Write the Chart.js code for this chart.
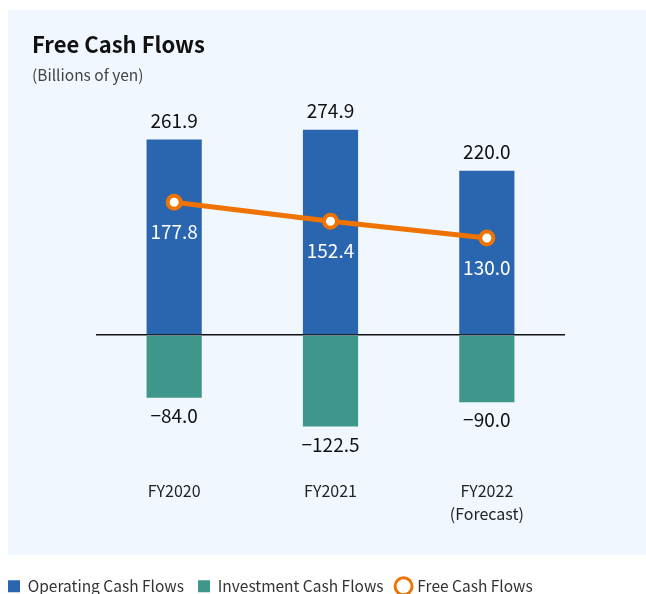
<!DOCTYPE html>
<html>
<head>
<meta charset="utf-8">
<script src="https://cdn.jsdelivr.net/npm/chart.js@4"></script>
<style>
  html, body { margin: 0; padding: 0; background: #fff; }
  #wrap { position: relative; width: 646px; height: 594px; }
</style>
</head>
<body>
<div id="wrap"><canvas id="fcf" width="646" height="594"></canvas></div>
<script>
(function () {
  'use strict';

  var categories = ['FY2020', 'FY2021', ['FY2022', '(Forecast)']];
  var operatingCF = [261.9, 274.9, 220.0];
  var investmentCF = [-84.0, -122.5, -90.0];
  var freeCF = [177.8, 152.4, 130.0];

  var FONT = '"Noto Sans CJK JP", "Noto Sans", sans-serif';

  // light panel + title text
  var panelPlugin = {
    id: 'panel',
    beforeDraw: function (chart) {
      var c = chart.ctx;
      c.save();
      c.fillStyle = '#f0f7fe';
      c.fillRect(8, 10, 638, 545);
      c.fillStyle = '#111';
      c.textBaseline = 'alphabetic';
      c.font = 'bold 22px ' + FONT;
      c.fillText('Free Cash Flows', 32, 53);
      c.fillStyle = '#444';
      c.font = '15.5px ' + FONT;
      c.fillText('(Billions of yen)', 32, 81);
      c.restore();
    }
  };

  // value labels
  var valuePlugin = {
    id: 'values',
    afterDatasetsDraw: function (chart) {
      var c = chart.ctx;
      c.save();
      c.textAlign = 'center';
      c.textBaseline = 'middle';
      c.font = '19px ' + FONT;
      chart.data.datasets.forEach(function (ds, i) {
        var meta = chart.getDatasetMeta(i);
        meta.data.forEach(function (el, j) {
          var v = ds.data[j];
          var txt = v < 0 ? '\u2212' + Math.abs(v).toFixed(1) : v.toFixed(1);
          if (ds.type === 'line') {
            c.fillStyle = '#fff';
            c.fillText(txt, el.x, el.y + 30);
          } else if (v >= 0) {
            c.fillStyle = '#111';
            c.fillText(txt, el.x, el.y - 19);
          } else {
            c.fillStyle = '#111';
            c.fillText(txt, el.x, el.y + 18);
          }
        });
      });
      c.restore();
    }
  };

  var legendOrder = ['Operating Cash Flows', 'Investment Cash Flows', 'Free Cash Flows'];

  var ctx = document.getElementById('fcf').getContext('2d');
  new Chart(ctx, {
    data: {
      labels: categories,
      datasets: [{
        type: 'line',
        label: 'Free Cash Flows',
        data: freeCF,
        borderColor: '#ef7300',
        backgroundColor: '#fff',
        borderWidth: 5,
        pointRadius: 6.5,
        pointBorderWidth: 4,
        pointBackgroundColor: '#fff',
        pointBorderColor: '#ef7300',
        pointStyle: 'circle',
        order: 0
      }, {
        type: 'bar',
        label: 'Operating Cash Flows',
        data: operatingCF,
        backgroundColor: '#2a66b0',
        pointStyle: 'rect',
        barPercentage: 0.353,
        categoryPercentage: 1,
        order: 1
      }, {
        type: 'bar',
        label: 'Investment Cash Flows',
        data: investmentCF,
        backgroundColor: '#3f968a',
        pointStyle: 'rect',
        barPercentage: 0.353,
        categoryPercentage: 1,
        order: 1
      }]
    },
    options: {
      responsive: false,
      animation: false,
      layout: { padding: { left: -6, right: 81, top: 111, bottom: -10 } },
      plugins: {
        tooltip: { enabled: false },
        title: { display: false },
        legend: {
          position: 'bottom',
          align: 'start',
          labels: {
            usePointStyle: true,
            boxWidth: 12,
            boxHeight: 12,
            padding: 14,
            color: '#333',
            font: { family: FONT, size: 15.5 },
            generateLabels: function (chart) {
              var items = Chart.defaults.plugins.legend.labels.generateLabels(chart);
              items.forEach(function (it) {
                if (it.text === 'Free Cash Flows') it.lineWidth = 3;
              });
              return items;
            },
            sort: function (a, b) {
              return legendOrder.indexOf(a.text) - legendOrder.indexOf(b.text);
            }
          }
        }
      },
      scales: {
        x: {
          stacked: true,
          grid: { display: false },
          border: { display: false },
          ticks: {
            color: '#222',
            padding: 17,
            font: { family: FONT, size: 16, lineHeight: 1.45 }
          },
          afterFit: function (scale) { scale.height = 110; }
        },
        y: {
          stacked: false,
          min: -160,
          max: 300,
          border: { display: false },
          ticks: { display: false, stepSize: 20 },
          grid: {
            drawTicks: false,
            lineWidth: 1.5,
            color: function (c) { return c.tick && c.tick.value === 0 ? '#111' : 'rgba(0,0,0,0)'; }
          },
          afterFit: function (scale) { scale.width = 102; }
        }
      }
    },
    plugins: [panelPlugin, valuePlugin]
  });
})();
</script>
</body>
</html>
